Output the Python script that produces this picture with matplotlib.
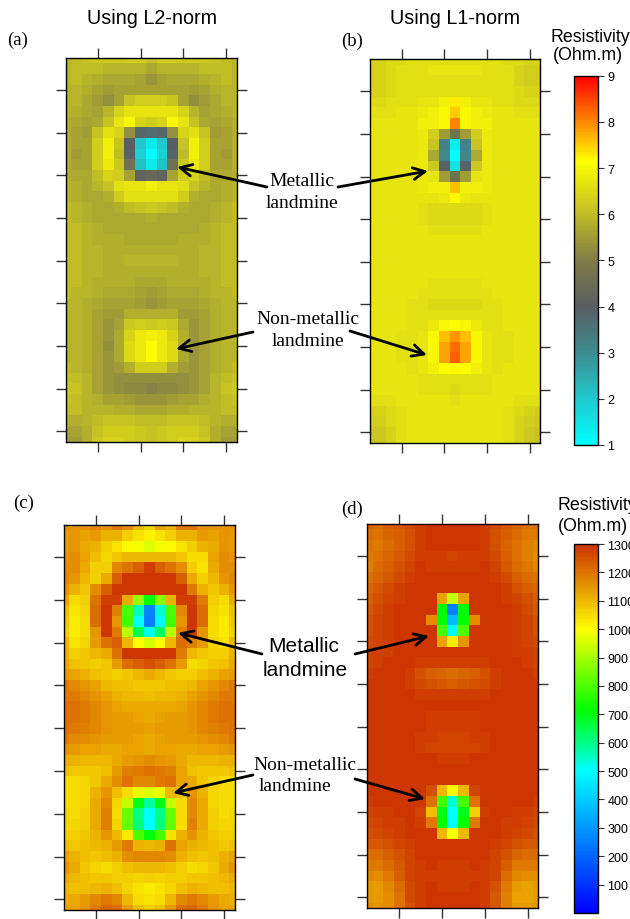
import matplotlib
matplotlib.use('Agg')
import matplotlib.pyplot as plt
import numpy as np
from matplotlib.cm import ScalarMappable
from matplotlib.colors import LinearSegmentedColormap, Normalize

W, H = 630, 920

# resistivity grids, top row first, 37 rows x 17 columns
panel_a = [
    [5.9, 6.0, 6.1, 6.2, 6.2, 6.2, 6.3, 6.3, 6.1, 6.3, 6.3, 6.2, 6.2, 6.2, 6.1, 6.0, 5.9],
    [5.9, 6.0, 6.0, 6.0, 5.9, 5.9, 5.9, 5.9, 5.7, 5.9, 5.9, 5.9, 5.9, 6.0, 6.0, 6.0, 5.9],
    [5.9, 6.0, 5.9, 5.8, 5.7, 5.7, 5.7, 5.6, 5.4, 5.6, 5.7, 5.7, 5.7, 5.8, 5.9, 6.0, 5.9],
    [5.9, 5.9, 5.8, 5.6, 5.5, 5.6, 5.6, 5.6, 5.6, 5.6, 5.6, 5.6, 5.5, 5.6, 5.8, 5.9, 5.9],
    [5.9, 5.9, 5.7, 5.5, 5.3, 5.6, 6.1, 6.3, 6.3, 6.3, 6.1, 5.6, 5.3, 5.5, 5.7, 5.9, 5.9],
    [5.9, 5.8, 5.7, 5.6, 5.9, 6.4, 6.7, 6.7, 6.7, 6.7, 6.7, 6.4, 5.9, 5.6, 5.7, 5.8, 5.9],
    [5.8, 5.7, 5.6, 5.7, 6.1, 6.7, 7.0, 6.4, 6.3, 6.4, 7.0, 6.7, 6.1, 5.7, 5.6, 5.7, 5.8],
    [5.8, 5.6, 5.5, 6.1, 6.6, 6.4, 5.3, 3.8, 3.7, 3.8, 5.3, 6.4, 6.6, 6.1, 5.5, 5.6, 5.8],
    [5.8, 5.6, 5.6, 6.3, 6.9, 6.1, 4.0, 2.0, 1.4, 2.0, 4.0, 6.1, 6.9, 6.3, 5.6, 5.6, 5.8],
    [5.8, 5.5, 5.6, 6.3, 6.9, 6.0, 3.9, 1.9, 1.1, 1.9, 3.9, 6.0, 6.9, 6.3, 5.6, 5.5, 5.8],
    [5.8, 5.6, 5.6, 6.3, 6.8, 6.2, 4.6, 2.1, 1.4, 2.1, 4.6, 6.2, 6.8, 6.3, 5.6, 5.6, 5.8],
    [5.8, 5.7, 5.7, 6.0, 6.4, 6.3, 5.6, 4.2, 4.4, 4.2, 5.6, 6.3, 6.4, 6.0, 5.7, 5.7, 5.8],
    [5.9, 5.8, 5.7, 5.9, 6.1, 6.6, 6.7, 6.7, 6.9, 6.7, 6.7, 6.6, 6.1, 5.9, 5.7, 5.8, 5.9],
    [5.9, 5.8, 5.7, 5.7, 5.8, 6.3, 6.6, 6.6, 6.6, 6.6, 6.6, 6.3, 5.8, 5.7, 5.7, 5.8, 5.9],
    [6.0, 5.9, 5.8, 5.7, 5.7, 5.8, 6.0, 6.1, 6.2, 6.1, 6.0, 5.8, 5.7, 5.7, 5.8, 5.9, 6.0],
    [6.0, 5.9, 5.8, 5.7, 5.7, 5.7, 5.7, 5.7, 5.8, 5.7, 5.7, 5.7, 5.7, 5.7, 5.8, 5.9, 6.0],
    [6.0, 6.0, 5.9, 5.8, 5.7, 5.7, 5.7, 5.7, 5.7, 5.7, 5.7, 5.7, 5.7, 5.8, 5.9, 6.0, 6.0],
    [6.0, 6.0, 5.9, 5.8, 5.8, 5.8, 5.7, 5.7, 5.7, 5.7, 5.7, 5.8, 5.8, 5.8, 5.9, 6.0, 6.0],
    [6.0, 6.0, 5.9, 5.9, 5.8, 5.8, 5.8, 5.8, 5.8, 5.8, 5.8, 5.8, 5.8, 5.9, 5.9, 6.0, 6.0],
    [6.0, 6.0, 5.9, 5.9, 5.8, 5.8, 5.9, 5.9, 5.9, 5.9, 5.9, 5.8, 5.8, 5.9, 5.9, 6.0, 6.0],
    [6.0, 6.0, 5.9, 5.9, 5.8, 5.8, 5.8, 5.8, 5.8, 5.8, 5.8, 5.8, 5.8, 5.9, 5.9, 6.0, 6.0],
    [6.0, 6.0, 5.9, 5.8, 5.8, 5.8, 5.8, 5.7, 5.7, 5.7, 5.8, 5.8, 5.8, 5.8, 5.9, 6.0, 6.0],
    [6.0, 5.9, 5.9, 5.8, 5.7, 5.7, 5.7, 5.6, 5.5, 5.6, 5.7, 5.7, 5.7, 5.8, 5.9, 5.9, 6.0],
    [5.9, 5.9, 5.8, 5.7, 5.6, 5.6, 5.6, 5.5, 5.4, 5.5, 5.6, 5.6, 5.6, 5.7, 5.8, 5.9, 5.9],
    [5.9, 5.9, 5.8, 5.6, 5.5, 5.5, 5.8, 5.8, 5.8, 5.8, 5.8, 5.5, 5.5, 5.6, 5.8, 5.9, 5.9],
    [5.9, 5.9, 5.8, 5.6, 5.4, 5.6, 6.2, 6.3, 6.2, 6.3, 6.2, 5.7, 5.4, 5.6, 5.8, 5.9, 5.9],
    [5.9, 5.9, 5.8, 5.6, 5.4, 5.7, 6.4, 6.8, 6.9, 6.8, 6.4, 5.8, 5.4, 5.6, 5.8, 5.9, 5.9],
    [5.9, 5.9, 5.8, 5.6, 5.3, 5.7, 6.5, 6.8, 7.1, 6.8, 6.5, 5.8, 5.4, 5.6, 5.8, 5.9, 5.9],
    [5.9, 5.9, 5.8, 5.6, 5.4, 5.7, 6.5, 6.8, 7.1, 6.8, 6.5, 5.7, 5.4, 5.6, 5.8, 5.9, 5.9],
    [6.0, 5.9, 5.8, 5.6, 5.4, 5.5, 5.8, 6.3, 6.3, 6.3, 5.8, 5.5, 5.4, 5.6, 5.8, 5.9, 6.0],
    [6.1, 6.0, 5.9, 5.6, 5.4, 5.3, 5.3, 5.3, 5.3, 5.3, 5.3, 5.3, 5.4, 5.6, 5.9, 6.0, 6.1],
    [6.2, 6.1, 5.9, 5.6, 5.4, 5.3, 5.2, 5.2, 5.1, 5.2, 5.2, 5.3, 5.4, 5.6, 5.9, 6.1, 6.2],
    [6.1, 6.0, 5.9, 5.8, 5.6, 5.6, 5.5, 5.4, 5.4, 5.4, 5.5, 5.6, 5.6, 5.8, 5.9, 6.0, 6.1],
    [6.0, 6.0, 5.9, 5.9, 5.9, 5.8, 5.8, 5.7, 5.7, 5.7, 5.8, 5.8, 5.9, 5.9, 5.9, 6.0, 6.0],
    [5.8, 5.8, 5.9, 6.0, 6.1, 6.1, 6.1, 6.0, 6.0, 6.0, 6.1, 6.1, 6.1, 6.0, 5.9, 5.8, 5.8],
    [5.6, 5.6, 5.8, 6.1, 6.3, 6.3, 6.3, 6.2, 6.1, 6.2, 6.3, 6.3, 6.3, 6.1, 5.8, 5.6, 5.6],
    [5.5, 5.5, 5.8, 6.2, 6.4, 6.4, 6.3, 6.2, 6.1, 6.2, 6.3, 6.4, 6.4, 6.2, 5.8, 5.5, 5.5],
]
panel_b = [
    [6.4, 6.4, 6.5, 6.5, 6.6, 6.6, 6.6, 6.6, 6.6, 6.6, 6.6, 6.6, 6.6, 6.5, 6.5, 6.4, 6.4],
    [6.4, 6.4, 6.5, 6.6, 6.6, 6.6, 6.7, 6.7, 6.7, 6.7, 6.7, 6.6, 6.6, 6.6, 6.4, 6.3, 6.3],
    [6.4, 6.4, 6.5, 6.6, 6.6, 6.6, 6.6, 6.6, 6.6, 6.6, 6.6, 6.6, 6.6, 6.6, 6.4, 6.3, 6.3],
    [6.4, 6.4, 6.5, 6.6, 6.6, 6.6, 6.6, 6.6, 6.6, 6.6, 6.6, 6.6, 6.6, 6.6, 6.5, 6.4, 6.4],
    [6.5, 6.5, 6.6, 6.6, 6.6, 6.7, 6.7, 6.9, 7.3, 6.9, 6.7, 6.7, 6.6, 6.6, 6.5, 6.5, 6.5],
    [6.6, 6.6, 6.6, 6.7, 6.7, 6.8, 6.9, 7.0, 7.5, 7.0, 6.9, 6.8, 6.7, 6.7, 6.6, 6.6, 6.6],
    [6.7, 6.7, 6.7, 6.7, 6.7, 6.9, 6.9, 7.0, 8.0, 7.0, 6.9, 6.9, 6.7, 6.7, 6.7, 6.7, 6.7],
    [6.7, 6.7, 6.7, 6.7, 6.7, 6.8, 6.3, 5.5, 4.6, 5.5, 6.3, 6.8, 6.7, 6.7, 6.7, 6.7, 6.7],
    [6.7, 6.7, 6.7, 6.7, 6.7, 6.8, 6.1, 3.2, 1.3, 3.2, 6.1, 6.8, 6.7, 6.7, 6.7, 6.7, 6.7],
    [6.7, 6.7, 6.7, 6.7, 6.7, 6.8, 5.7, 3.1, 1.0, 3.1, 5.7, 6.8, 6.7, 6.7, 6.7, 6.7, 6.7],
    [6.7, 6.7, 6.7, 6.7, 6.7, 6.8, 6.2, 3.9, 1.5, 3.9, 6.2, 6.8, 6.7, 6.7, 6.7, 6.7, 6.7],
    [6.7, 6.7, 6.7, 6.7, 6.7, 6.8, 6.7, 5.5, 4.6, 5.5, 6.7, 6.8, 6.7, 6.7, 6.7, 6.7, 6.7],
    [6.7, 6.7, 6.7, 6.7, 6.7, 6.8, 6.9, 6.9, 7.6, 6.9, 6.9, 6.8, 6.7, 6.7, 6.7, 6.7, 6.7],
    [6.7, 6.7, 6.7, 6.7, 6.7, 6.7, 6.7, 6.8, 7.2, 6.8, 6.7, 6.7, 6.7, 6.7, 6.7, 6.7, 6.7],
    [6.7, 6.7, 6.7, 6.7, 6.7, 6.6, 6.5, 6.5, 6.5, 6.5, 6.5, 6.6, 6.7, 6.7, 6.7, 6.7, 6.7],
    [6.7, 6.7, 6.7, 6.7, 6.7, 6.6, 6.5, 6.5, 6.5, 6.5, 6.5, 6.6, 6.7, 6.7, 6.7, 6.7, 6.7],
    [6.7, 6.7, 6.7, 6.7, 6.7, 6.7, 6.6, 6.6, 6.6, 6.6, 6.6, 6.7, 6.7, 6.7, 6.7, 6.7, 6.7],
    [6.7, 6.7, 6.7, 6.7, 6.7, 6.7, 6.7, 6.7, 6.7, 6.7, 6.7, 6.7, 6.7, 6.7, 6.7, 6.7, 6.7],
    [6.7, 6.7, 6.7, 6.7, 6.7, 6.7, 6.7, 6.7, 6.7, 6.7, 6.7, 6.7, 6.7, 6.7, 6.7, 6.7, 6.7],
    [6.7, 6.7, 6.7, 6.7, 6.7, 6.7, 6.7, 6.7, 6.7, 6.7, 6.7, 6.7, 6.7, 6.7, 6.7, 6.7, 6.7],
    [6.7, 6.7, 6.7, 6.7, 6.7, 6.7, 6.7, 6.7, 6.7, 6.7, 6.7, 6.7, 6.7, 6.7, 6.7, 6.7, 6.7],
    [6.7, 6.7, 6.7, 6.7, 6.7, 6.7, 6.6, 6.6, 6.6, 6.6, 6.6, 6.7, 6.7, 6.7, 6.7, 6.7, 6.7],
    [6.7, 6.7, 6.7, 6.7, 6.7, 6.6, 6.6, 6.6, 6.6, 6.6, 6.6, 6.6, 6.7, 6.7, 6.7, 6.7, 6.7],
    [6.7, 6.7, 6.7, 6.7, 6.6, 6.6, 6.5, 6.5, 6.5, 6.5, 6.5, 6.6, 6.6, 6.7, 6.7, 6.7, 6.7],
    [6.7, 6.7, 6.7, 6.7, 6.6, 6.6, 6.6, 6.6, 6.6, 6.6, 6.6, 6.6, 6.6, 6.7, 6.7, 6.7, 6.7],
    [6.7, 6.7, 6.7, 6.7, 6.6, 6.6, 6.8, 7.0, 7.1, 7.0, 6.8, 6.6, 6.6, 6.7, 6.7, 6.7, 6.7],
    [6.7, 6.7, 6.7, 6.6, 6.6, 6.7, 7.0, 7.6, 7.9, 7.6, 7.0, 6.7, 6.6, 6.6, 6.7, 6.7, 6.7],
    [6.7, 6.7, 6.7, 6.6, 6.6, 6.7, 7.0, 7.8, 8.2, 7.8, 7.0, 6.7, 6.6, 6.6, 6.7, 6.7, 6.7],
    [6.7, 6.7, 6.7, 6.6, 6.6, 6.7, 7.0, 7.8, 8.3, 7.8, 7.0, 6.7, 6.6, 6.6, 6.7, 6.7, 6.7],
    [6.7, 6.7, 6.7, 6.7, 6.6, 6.7, 6.9, 7.1, 7.2, 7.1, 6.9, 6.7, 6.6, 6.7, 6.7, 6.7, 6.7],
    [6.7, 6.7, 6.7, 6.7, 6.7, 6.6, 6.6, 6.6, 6.6, 6.6, 6.6, 6.6, 6.7, 6.7, 6.7, 6.7, 6.7],
    [6.7, 6.7, 6.7, 6.7, 6.7, 6.6, 6.6, 6.6, 6.5, 6.6, 6.6, 6.6, 6.7, 6.7, 6.7, 6.7, 6.7],
    [6.6, 6.6, 6.6, 6.7, 6.7, 6.7, 6.7, 6.7, 6.6, 6.7, 6.7, 6.7, 6.7, 6.7, 6.6, 6.6, 6.6],
    [6.4, 6.4, 6.5, 6.6, 6.7, 6.7, 6.7, 6.7, 6.7, 6.7, 6.7, 6.7, 6.7, 6.6, 6.5, 6.4, 6.3],
    [6.3, 6.3, 6.5, 6.6, 6.7, 6.7, 6.7, 6.7, 6.7, 6.7, 6.7, 6.7, 6.7, 6.6, 6.4, 6.3, 6.2],
    [6.2, 6.2, 6.4, 6.6, 6.7, 6.7, 6.7, 6.7, 6.7, 6.7, 6.7, 6.7, 6.7, 6.6, 6.4, 6.2, 6.1],
    [6.1, 6.2, 6.4, 6.6, 6.7, 6.7, 6.7, 6.7, 6.7, 6.7, 6.7, 6.7, 6.7, 6.6, 6.4, 6.2, 6.1],
]
panel_c = [
    [1150, 1150, 1150, 1170, 1150, 1190, 1160, 1100, 1060, 1130, 1110, 1190, 1190, 1150, 1150, 1150, 1150],
    [1140, 1150, 1130, 1140, 1110, 1110, 1070, 1040, 1020, 1040, 1070, 1110, 1110, 1140, 1130, 1150, 1140],
    [1140, 1150, 1120, 1110, 1070, 1040, 1010, 990, 960, 990, 1010, 1040, 1070, 1110, 1120, 1150, 1140],
    [1150, 1160, 1130, 1090, 1060, 1080, 1100, 1100, 1100, 1100, 1100, 1080, 1050, 1050, 1130, 1160, 1150],
    [1160, 1160, 1120, 1070, 1070, 1170, 1200, 1230, 1280, 1230, 1200, 1160, 1070, 1040, 1120, 1160, 1160],
    [1170, 1150, 1100, 1070, 1120, 1230, 1290, 1290, 1290, 1290, 1290, 1230, 1120, 1070, 1100, 1150, 1170],
    [1150, 1110, 1080, 1160, 1230, 1290, 1290, 1290, 1290, 1290, 1290, 1290, 1190, 1110, 1080, 1110, 1150],
    [1120, 1050, 1070, 1200, 1280, 1280, 1120, 880, 720, 870, 1110, 1280, 1280, 1190, 1070, 1050, 1120],
    [1090, 1040, 1060, 1210, 1290, 1180, 800, 560, 260, 540, 800, 1170, 1290, 1210, 1060, 1040, 1090],
    [1080, 1030, 1050, 1210, 1290, 1150, 790, 500, 250, 490, 790, 1150, 1290, 1210, 1050, 1030, 1080],
    [1070, 1030, 1050, 1150, 1290, 1190, 920, 640, 520, 630, 920, 1180, 1280, 1150, 1050, 1030, 1070],
    [1100, 1040, 1060, 1140, 1200, 1230, 1100, 1000, 950, 1000, 1100, 1210, 1180, 1140, 1060, 1040, 1100],
    [1110, 1070, 1080, 1100, 1120, 1200, 1290, 1290, 1290, 1290, 1290, 1190, 1100, 1080, 1070, 1070, 1110],
    [1120, 1090, 1080, 1070, 1080, 1140, 1210, 1230, 1250, 1230, 1200, 1140, 1050, 1060, 1080, 1090, 1120],
    [1140, 1130, 1110, 1090, 1080, 1070, 1080, 1100, 1120, 1100, 1080, 1070, 1070, 1090, 1110, 1130, 1140],
    [1190, 1170, 1150, 1130, 1100, 1090, 1090, 1080, 1080, 1080, 1090, 1090, 1100, 1130, 1150, 1170, 1190],
    [1190, 1190, 1170, 1150, 1130, 1110, 1100, 1100, 1090, 1100, 1100, 1110, 1130, 1150, 1170, 1190, 1190],
    [1200, 1200, 1190, 1170, 1150, 1130, 1120, 1120, 1120, 1120, 1120, 1130, 1150, 1170, 1190, 1200, 1200],
    [1200, 1200, 1190, 1170, 1150, 1140, 1140, 1130, 1120, 1130, 1140, 1140, 1150, 1170, 1190, 1200, 1200],
    [1200, 1190, 1180, 1170, 1150, 1140, 1140, 1140, 1130, 1140, 1140, 1140, 1150, 1170, 1180, 1190, 1200],
    [1190, 1170, 1160, 1150, 1140, 1140, 1140, 1130, 1120, 1130, 1140, 1140, 1140, 1150, 1160, 1170, 1190],
    [1150, 1140, 1130, 1130, 1120, 1120, 1130, 1130, 1120, 1130, 1130, 1120, 1120, 1130, 1130, 1140, 1150],
    [1110, 1110, 1100, 1100, 1100, 1120, 1140, 1150, 1160, 1150, 1140, 1120, 1100, 1100, 1100, 1110, 1110],
    [1090, 1080, 1080, 1080, 1090, 1140, 1180, 1190, 1200, 1190, 1180, 1130, 1090, 1080, 1080, 1080, 1090],
    [1050, 1050, 1060, 1080, 1120, 1160, 1200, 1170, 1170, 1190, 1200, 1130, 1120, 1080, 1060, 1050, 1050],
    [1050, 1050, 1060, 1110, 1150, 1090, 1050, 980, 960, 980, 1100, 1090, 1150, 1110, 1060, 1050, 1050],
    [1050, 1050, 1060, 1120, 1170, 1060, 930, 700, 580, 700, 930, 1050, 1170, 1120, 1060, 1050, 1050],
    [1060, 1050, 1070, 1120, 1180, 1050, 830, 600, 500, 600, 830, 1050, 1170, 1120, 1070, 1050, 1060],
    [1060, 1060, 1070, 1120, 1180, 1060, 830, 610, 500, 610, 830, 1050, 1180, 1120, 1070, 1060, 1060],
    [1070, 1070, 1080, 1110, 1150, 1100, 1030, 800, 710, 800, 1040, 1110, 1150, 1110, 1080, 1070, 1070],
    [1090, 1080, 1090, 1100, 1110, 1140, 1190, 1110, 1100, 1110, 1200, 1130, 1110, 1100, 1090, 1080, 1090],
    [1130, 1110, 1090, 1080, 1090, 1110, 1160, 1170, 1170, 1170, 1160, 1110, 1090, 1080, 1090, 1110, 1130],
    [1150, 1120, 1080, 1060, 1050, 1070, 1090, 1100, 1100, 1100, 1090, 1070, 1050, 1060, 1080, 1120, 1150],
    [1120, 1100, 1090, 1080, 1080, 1070, 1070, 1060, 1070, 1060, 1070, 1070, 1080, 1080, 1090, 1100, 1120],
    [1100, 1090, 1090, 1100, 1110, 1090, 1060, 1040, 1030, 1040, 1060, 1090, 1110, 1100, 1090, 1090, 1100],
    [1110, 1120, 1140, 1170, 1190, 1170, 1100, 1050, 1040, 1050, 1100, 1170, 1190, 1170, 1140, 1120, 1110],
    [1130, 1130, 1150, 1190, 1220, 1210, 1140, 1090, 1070, 1090, 1140, 1210, 1220, 1190, 1150, 1130, 1130],
]
panel_d = [
    [1220, 1210, 1230, 1240, 1260, 1280, 1290, 1290, 1290, 1290, 1290, 1280, 1260, 1240, 1220, 1200, 1200],
    [1210, 1200, 1220, 1230, 1250, 1280, 1290, 1290, 1290, 1290, 1290, 1280, 1250, 1230, 1210, 1190, 1190],
    [1200, 1190, 1210, 1230, 1250, 1280, 1290, 1290, 1290, 1290, 1290, 1280, 1250, 1220, 1200, 1180, 1170],
    [1190, 1200, 1220, 1240, 1260, 1280, 1280, 1280, 1270, 1280, 1280, 1280, 1260, 1230, 1200, 1180, 1160],
    [1180, 1210, 1230, 1250, 1270, 1290, 1280, 1280, 1280, 1280, 1280, 1290, 1270, 1240, 1210, 1190, 1170],
    [1200, 1220, 1240, 1260, 1280, 1290, 1290, 1290, 1290, 1290, 1290, 1290, 1280, 1260, 1230, 1210, 1200],
    [1220, 1240, 1260, 1280, 1290, 1290, 1290, 1290, 1290, 1290, 1290, 1290, 1290, 1280, 1250, 1230, 1220],
    [1230, 1250, 1270, 1280, 1290, 1290, 1290, 1130, 930, 1130, 1290, 1290, 1290, 1280, 1270, 1250, 1230],
    [1240, 1260, 1280, 1290, 1290, 1290, 1290, 710, 250, 710, 1290, 1290, 1290, 1290, 1280, 1260, 1240],
    [1250, 1270, 1280, 1290, 1290, 1290, 1160, 710, 370, 710, 1160, 1290, 1290, 1290, 1280, 1270, 1250],
    [1250, 1270, 1280, 1290, 1290, 1290, 1290, 790, 490, 800, 1290, 1290, 1290, 1290, 1280, 1270, 1250],
    [1260, 1270, 1280, 1290, 1290, 1290, 1290, 1130, 1030, 1150, 1290, 1290, 1290, 1290, 1280, 1270, 1260],
    [1270, 1280, 1280, 1290, 1290, 1290, 1290, 1290, 1290, 1290, 1290, 1290, 1290, 1290, 1280, 1280, 1270],
    [1270, 1280, 1290, 1290, 1290, 1280, 1280, 1280, 1280, 1280, 1280, 1280, 1290, 1290, 1290, 1280, 1270],
    [1280, 1290, 1290, 1290, 1280, 1250, 1230, 1220, 1210, 1220, 1230, 1250, 1280, 1290, 1290, 1290, 1280],
    [1290, 1290, 1290, 1290, 1280, 1260, 1250, 1240, 1230, 1240, 1250, 1260, 1280, 1290, 1290, 1290, 1290],
    [1290, 1290, 1290, 1290, 1290, 1280, 1280, 1280, 1280, 1280, 1280, 1280, 1290, 1290, 1290, 1290, 1290],
    [1290, 1290, 1290, 1290, 1290, 1290, 1290, 1290, 1290, 1290, 1290, 1290, 1290, 1290, 1290, 1290, 1290],
    [1290, 1290, 1290, 1290, 1290, 1290, 1280, 1280, 1280, 1280, 1280, 1290, 1290, 1290, 1290, 1290, 1290],
    [1290, 1290, 1290, 1290, 1290, 1290, 1280, 1280, 1280, 1280, 1280, 1290, 1290, 1290, 1290, 1290, 1290],
    [1290, 1290, 1290, 1290, 1290, 1280, 1280, 1270, 1270, 1270, 1280, 1280, 1290, 1290, 1290, 1290, 1290],
    [1290, 1290, 1290, 1290, 1290, 1280, 1270, 1270, 1270, 1270, 1270, 1280, 1290, 1290, 1290, 1290, 1290],
    [1290, 1290, 1290, 1290, 1290, 1290, 1290, 1280, 1280, 1280, 1290, 1290, 1290, 1290, 1290, 1290, 1290],
    [1290, 1290, 1290, 1290, 1290, 1290, 1290, 1290, 1290, 1290, 1290, 1290, 1290, 1290, 1290, 1290, 1290],
    [1290, 1290, 1290, 1290, 1290, 1290, 1290, 1290, 1290, 1290, 1290, 1290, 1290, 1290, 1290, 1290, 1290],
    [1290, 1290, 1290, 1290, 1290, 1290, 1250, 1100, 1010, 1100, 1270, 1290, 1290, 1290, 1290, 1290, 1290],
    [1280, 1290, 1290, 1290, 1290, 1290, 1200, 790, 540, 790, 1200, 1290, 1290, 1290, 1290, 1290, 1280],
    [1270, 1280, 1280, 1290, 1290, 1270, 1090, 700, 500, 700, 1070, 1280, 1290, 1290, 1280, 1280, 1270],
    [1260, 1270, 1280, 1280, 1290, 1280, 1190, 720, 500, 720, 1190, 1290, 1290, 1280, 1280, 1270, 1260],
    [1250, 1260, 1270, 1280, 1290, 1290, 1290, 1100, 1000, 1100, 1290, 1290, 1290, 1280, 1270, 1260, 1250],
    [1240, 1240, 1250, 1270, 1280, 1290, 1290, 1290, 1290, 1290, 1290, 1290, 1280, 1270, 1250, 1240, 1240],
    [1210, 1210, 1230, 1250, 1270, 1290, 1290, 1290, 1290, 1290, 1290, 1290, 1270, 1250, 1220, 1210, 1210],
    [1190, 1190, 1210, 1240, 1270, 1280, 1290, 1280, 1280, 1280, 1290, 1280, 1270, 1230, 1190, 1190, 1190],
    [1170, 1160, 1190, 1230, 1270, 1280, 1280, 1280, 1280, 1280, 1280, 1280, 1270, 1210, 1170, 1160, 1160],
    [1150, 1140, 1170, 1210, 1260, 1280, 1290, 1280, 1280, 1280, 1290, 1280, 1250, 1190, 1140, 1130, 1140],
    [1150, 1140, 1160, 1200, 1260, 1280, 1290, 1290, 1290, 1290, 1290, 1280, 1240, 1180, 1130, 1130, 1140],
    [1160, 1150, 1160, 1200, 1250, 1280, 1290, 1290, 1290, 1290, 1290, 1280, 1240, 1180, 1140, 1140, 1150],
]

ticks_small = [1, 2, 3, 4, 5, 6, 7, 8, 9]
ticks_large = [100, 200, 300, 400, 500, 600, 700, 800, 900, 1000, 1100, 1200, 1300]

cmap_small = LinearSegmentedColormap.from_list('small', [
    (0.0, '#00ffff'), (0.125, '#20c8cc'), (0.25, '#3c8c90'), (0.375, '#5a5e62'),
    (0.5, '#7f7c48'), (0.625, '#c0bc26'), (0.77, '#ffff00'), (0.875, '#ff8800'), (1.0, '#ff0000')])
cmap_large = LinearSegmentedColormap.from_list('large', [
    (0.0, '#0000ff'), (0.385, '#00ffff'), (0.55, '#00ff00'), (0.77, '#ffff00'),
    (0.885, '#e69500'), (1.0, '#cc3300')])


def px_axes(fig, left, top, right, bottom):
    return fig.add_axes([left / W, 1 - bottom / H, (right - left) / W, (bottom - top) / H])


def draw_panel(fig, grid, box, cmap, vmin, vmax):
    ax = px_axes(fig, *box)
    ax.pcolormesh(np.arange(17), np.arange(37), np.array(grid), cmap=cmap, vmin=vmin, vmax=vmax, shading='nearest')
    ax.set_xlim(0, 16)
    ax.set_ylim(36, 0)
    ax.set_xticks([3, 7, 11, 15])
    ax.set_yticks(np.arange(3, 36, 4))
    ax.tick_params(top=True, right=True, labelbottom=False, labelleft=False, length=7, width=1, color='#333333')
    for s in ax.spines.values():
        s.set_linewidth(1)
    return ax


def draw_bar(fig, box, cmap, vmin, vmax, ticks):
    cax = px_axes(fig, *box)
    cb = fig.colorbar(ScalarMappable(Normalize(vmin, vmax), cmap), cax=cax)
    cb.set_ticks(ticks)
    cb.ax.tick_params(length=4, width=0.8, labelsize=9, pad=3, color='#333333')
    for lab in cb.ax.get_yticklabels():
        lab.set_family('Liberation Sans')
    cb.outline.set_linewidth(1)


def put(fig, x, y, s, size, family='Liberation Serif', ha='center'):
    fig.text(x / W, 1 - y / H, s, fontsize=size, family=family, ha=ha, va='center')


def arrow(fig, tail, tip):
    fig.add_artist(plt.Annotation('', xy=(tip[0] / W, 1 - tip[1] / H), xytext=(tail[0] / W, 1 - tail[1] / H),
                                  xycoords='figure fraction', textcoords='figure fraction',
                                  arrowprops=dict(arrowstyle='->,head_length=0.85,head_width=0.42', lw=2, color='black',
                                                  shrinkA=0, shrinkB=0)))


fig = plt.figure(figsize=(W / 100, H / 100), dpi=100)

draw_panel(fig, panel_a, (65.5, 59, 237, 443), cmap_small, 1, 9)
draw_panel(fig, panel_b, (369.7, 60.3, 540.3, 444), cmap_small, 1, 9)
draw_panel(fig, panel_c, (63.7, 526, 234.7, 911), cmap_large, 0, 1300)
draw_panel(fig, panel_d, (367.3, 525, 538.3, 909), cmap_large, 0, 1300)

draw_bar(fig, (573.5, 76.7, 597.5, 446), cmap_small, 1, 9, ticks_small)
draw_bar(fig, (573.5, 545, 597.5, 914), cmap_large, 0, 1300, ticks_large)

put(fig, 152, 18, 'Using L2-norm', 14.2, 'Liberation Sans')
put(fig, 455, 19, 'Using L1-norm', 14.2, 'Liberation Sans')
put(fig, 18, 40, '(a)', 13.5)
put(fig, 352, 41, '(b)', 13.5)
put(fig, 24, 503, '(c)', 13.5)
put(fig, 352, 509, '(d)', 13.5)
put(fig, 590, 37, 'Resistivity', 12.8, 'Liberation Sans')
put(fig, 588, 56, '(Ohm.m)', 12.8, 'Liberation Sans')
put(fig, 597, 506, 'Resistivity', 12.8, 'Liberation Sans')
put(fig, 593, 527, '(Ohm.m)', 12.8, 'Liberation Sans')
put(fig, 302, 182, 'Metallic', 14)
put(fig, 302, 204, 'landmine', 14)
put(fig, 308, 320, 'Non-metallic', 14)
put(fig, 308, 342, 'landmine', 14)
put(fig, 304, 647, 'Metallic', 15, 'Liberation Sans')
put(fig, 305, 670, 'landmine', 15, 'Liberation Sans')
put(fig, 305, 765, 'Non-metallic', 14)
put(fig, 295, 787, 'landmine', 14)

arrow(fig, (267, 188), (177, 168))
arrow(fig, (253, 333), (176, 350))
arrow(fig, (338, 188), (428, 172))
arrow(fig, (350, 332), (427, 356))
arrow(fig, (262, 655), (178, 634))
arrow(fig, (253, 776), (173, 794))
arrow(fig, (355, 655), (429, 637))
arrow(fig, (355, 780), (425, 800))

fig.savefig('out.png', dpi=100)
